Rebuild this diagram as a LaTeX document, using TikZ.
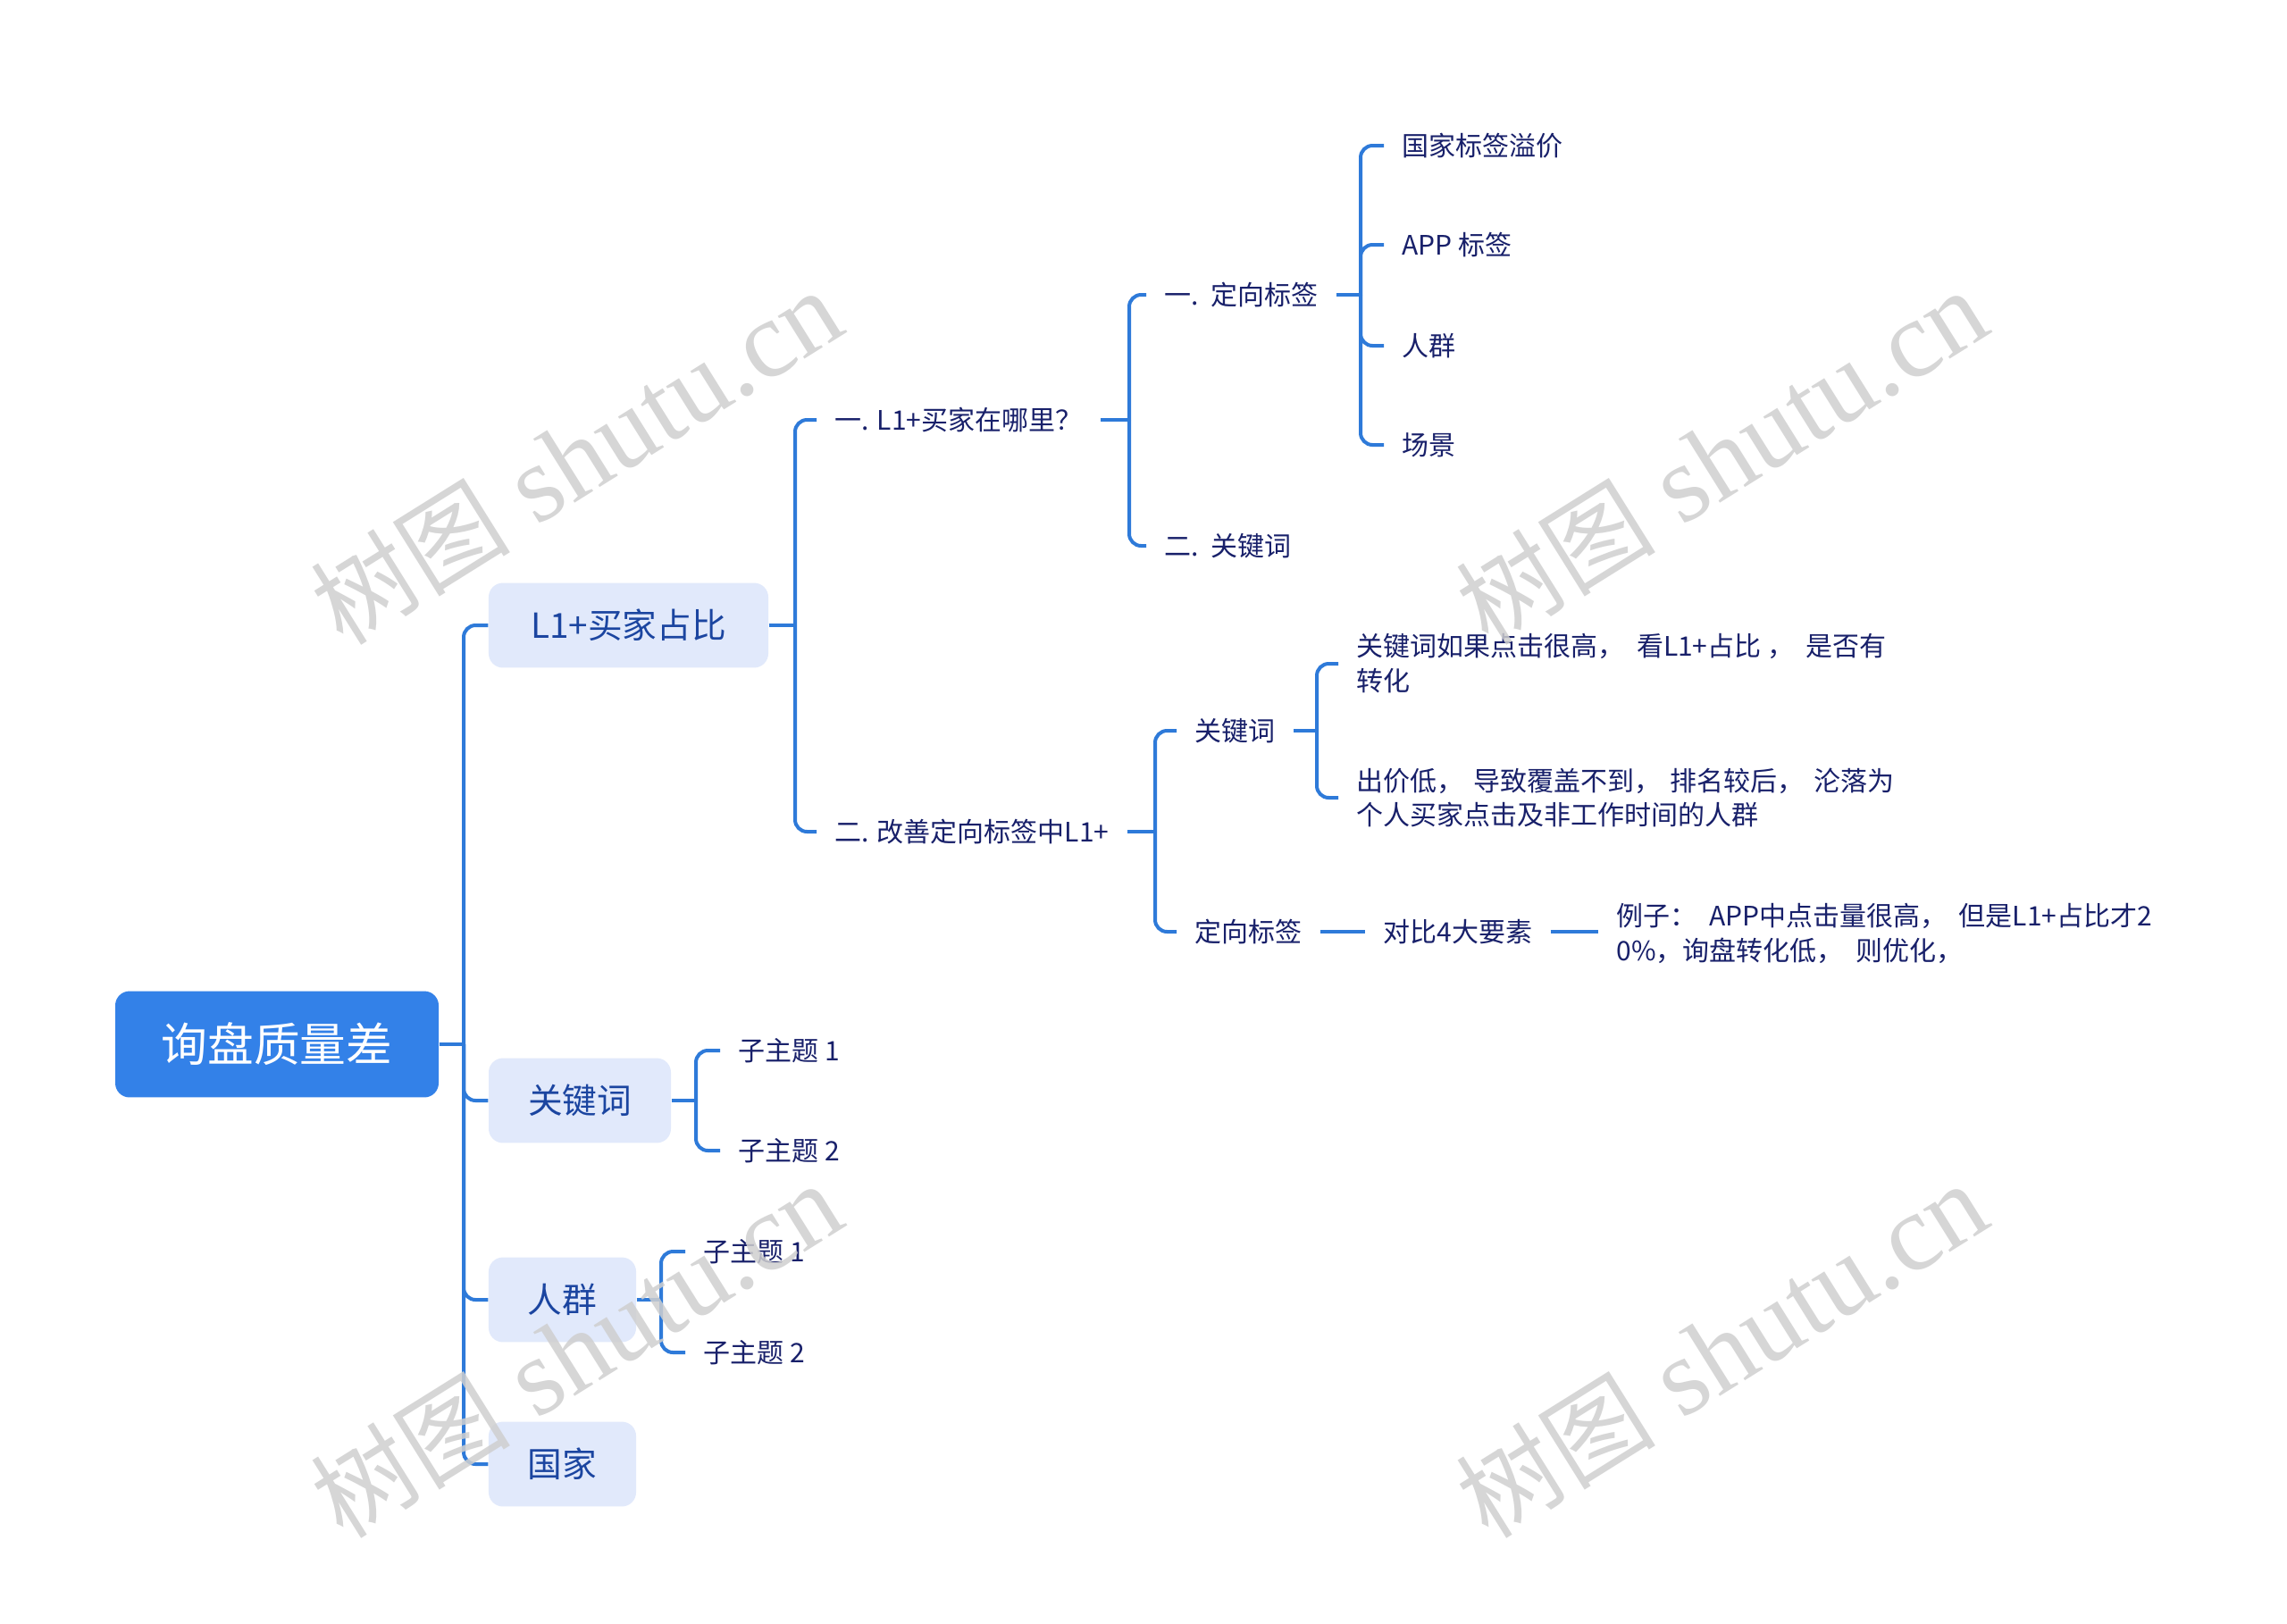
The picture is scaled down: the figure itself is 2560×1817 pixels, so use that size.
\documentclass[tikz,border=0pt]{standalone}
\usepackage{fontspec}
\setmainfont{Noto Sans CJK SC}
\newfontfamily\wmlat{Liberation Serif}
\newfontfamily\wmcjk{Noto Sans CJK SC}
\usetikzlibrary{calc}
\definecolor{rootblue}{HTML}{3381E8}
\definecolor{lvlfill}{HTML}{E1E9FB}
\definecolor{lvltext}{HTML}{1B45A0}
\definecolor{navy}{HTML}{18206A}
\definecolor{linec}{HTML}{2E7AD9}
\definecolor{wmgray}{HTML}{CFCFCF}
\newcommand{\gp}{\hspace{0.45em}}
\newcommand{\gq}{\hspace{0.35em}}
\begin{document}
\begin{tikzpicture}[x=0.375pt,y=-0.375pt,
  conn/.style={draw=linec, line width=1.5pt, rounded corners=5pt},
  rootbox/.style={fill=rootblue, rounded corners=6pt, text=white, inner sep=0pt,
    font=\fontsize{19.4}{23}\selectfont, minimum width=135.75pt, minimum height=44.6pt},
  lvlbox/.style={fill=lvlfill, rounded corners=6pt, text=lvltext, inner sep=0pt,
    font=\fontsize{14.5}{17}\selectfont, minimum height=35.6pt},
  txt/.style={text=navy, font=\fontsize{11.25}{14.6}\selectfont, inner xsep=7.5pt,
    inner ysep=2pt, align=left, anchor=west},
  wmark/.style={text=wmgray, opacity=0.85, rotate=32, inner sep=0pt}
]
\fill[white] (0,0) rectangle (2560,1817);
\useasboundingbox (0,0) rectangle (2560,1817);

% root and level 1
\node[rootbox] (root) at (310,1169) {询盘质量差};
\node[lvlbox, minimum width=117.4pt] (b1) at (703.5,700) {L1+买家占比};
\node[lvlbox, minimum width=76.5pt] (b2) at (649,1232) {关键词};
\node[lvlbox, minimum width=61.9pt] (b3) at (629.5,1455) {人群};
\node[lvlbox, minimum width=61.9pt] (b4) at (629.5,1639) {国家};

% level 2
\node[txt] (q1) at (914,470) {一. L1+买家在哪里？};
\node[txt] (q2) at (914,931) {二. 改善定向标签中L1+};

% level 3
\node[txt] (r1) at (1283,330) {一.\ \ 定向标签};
\node[txt] (r2) at (1283,611) {二.\ \ 关键词};
\node[txt] (t1) at (1317,818) {关键词};
\node[txt] (t2) at (1317,1043) {定向标签};

% level 4
\node[txt] (s1) at (1549,163) {国家标签溢价};
\node[txt] (s2) at (1549,274) {APP 标签};
\node[txt] (s3) at (1549,387) {人群};
\node[txt] (s4) at (1549,498) {场景};
\node[txt] (u1) at (1498,743) {关键词如果点击很高，\gp 看L1+占比 ，\gp 是否有\\转化};
\node[txt] (u2) at (1498,893) {出价低，\gq 导致覆盖不到，\gq 排名较后，\gq 沦落为\\个人买家点击及非工作时间的人群};
\node[txt] (v1) at (1528,1043) {对比4大要素};
\node[txt] (w1) at (1789,1045) {例子：\gp APP中点击量很高，\gp 但是L1+占比才2\\0\%，询盘转化低，\gp 则优化，};

% sub-topics
\node[txt] (k1) at (806,1176) {子主题 1};
\node[txt] (k2) at (806,1288) {子主题 2};
\node[txt] (p1) at (767,1401) {子主题 1};
\node[txt] (p2) at (767,1514) {子主题 2};

% junctions
\coordinate (j0) at (519,1169);
\coordinate (j1) at (890,700);
\coordinate (j2) at (1264,470);
\coordinate (j3) at (1523,330);
\coordinate (j4) at (1293,931);
\coordinate (j5) at (1474,818);
\coordinate (j6) at (779,1232);
\coordinate (j7) at (740,1455);

% connectors
\draw[conn] (root.east) -- (j0);
\foreach \c in {b1,b2,b3,b4} \draw[conn] (j0) |- (\c.west);
\draw[conn] (b1.east) -- (j1);
\foreach \c in {q1,q2} \draw[conn] (j1) |- (\c.west);
\draw[conn] (q1.east) -- (j2);
\foreach \c in {r1,r2} \draw[conn] (j2) |- (\c.west);
\draw[conn] (r1.east) -- (j3);
\foreach \c in {s1,s2,s3,s4} \draw[conn] (j3) |- (\c.west);
\draw[conn] (q2.east) -- (j4);
\foreach \c in {t1,t2} \draw[conn] (j4) |- (\c.west);
\draw[conn] (t1.east) -- (j5);
\foreach \c in {u1,u2} \draw[conn] (j5) |- (\c.west);
\draw[conn] (t2.east) -- (v1.west);
\draw[conn] (v1.east) -- (w1.west |- v1.east);
\draw[conn] (b2.east) -- (j6);
\foreach \c in {k1,k2} \draw[conn] (j6) |- (\c.west);
\draw[conn] (b3.east) -- (j7);
\foreach \c in {p1,p2} \draw[conn] (j7) |- (\c.west);

% watermarks
\foreach \px/\py [count=\i] in {645/512, 1927/512, 645/1512, 1927/1512}
  \node[wmark] (wm\i) at (\px,\py) {\wmcjk\fontsize{42}{46}\selectfont 树图\wmlat\fontsize{46}{50}\selectfont\ shutu.cn};
\end{tikzpicture}
\end{document}
